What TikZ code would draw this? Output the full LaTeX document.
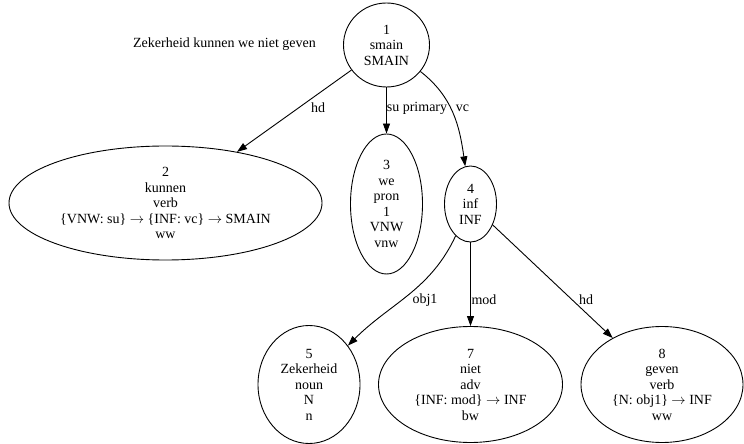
\documentclass[tikz,border=0pt]{standalone}
\usepackage{fontspec}
\setmainfont{Liberation Serif}
\usepackage{tikz}
\usetikzlibrary{arrows.meta,shapes.geometric}
\newcommand{\gvfont}{\fontsize{14bp}{15.5bp}\selectfont}

\begin{document}
\begin{tikzpicture}[
  x=1bp, y=-1bp,
  tnode/.style={draw,ellipse,inner sep=0pt,align=center,font=\gvfont,line width=0.9bp},
  lbl/.style={inner sep=0pt,font=\gvfont},
  arr/.style={-{Triangle[length=10bp,width=7bp]},line width=0.9bp}]
\fill[white] (0,0) rectangle (744,444);
\useasboundingbox (0,0) rectangle (744,444);
\node[lbl] (sent) at (224.5,44) {Zekerheid kunnen we niet geven};
\node[tnode,minimum width=86bp,minimum height=84bp] (n1) at (386.5,45) {1\\smain\\SMAIN};
\node[tnode,minimum width=313bp,minimum height=114bp] (n2) at (165.5,203) {2\\kunnen\\verb\\\{VNW: su\} $\rightarrow$ \{INF: vc\} $\rightarrow$ SMAIN\\ww};
\node[tnode,minimum width=72bp,minimum height=140bp] (n3) at (386.5,204) {3\\we\\pron\\1\\VNW\\vnw};
\node[tnode,minimum width=52bp,minimum height=76bp] (n4) at (470.5,204) {4\\inf\\INF};
\node[tnode,minimum width=102bp,minimum height=118bp] (n5) at (309,384.5) {5\\Zekerheid\\noun\\N\\n};
\node[tnode,minimum width=184bp,minimum height=116bp] (n7) at (470.5,384.5) {7\\niet\\adv\\\{INF: mod\} $\rightarrow$ INF\\bw};
\node[tnode,minimum width=162bp,minimum height=116bp] (n8) at (662,384.5) {8\\geven\\verb\\\{N: obj1\} $\rightarrow$ INF\\ww};
% edges
\draw[arr] (n1) -- (n2);
\draw[arr] (n1) -- (n3);
\draw[arr] (n1) to[out=-38,in=98] (n4);
\draw[arr] (n4) to[out=245,in=45] (n5);
\draw[arr] (n4) -- (n7);
\draw[arr] (n4) -- (n8);
% edge labels
\node[lbl] (l12) at (318,108) {hd};
\node[lbl] (l13) at (417,108) {su primary};
\node[lbl] (l14) at (462.5,108) {vc};
\node[lbl] (l45) at (425,300) {obj1};
\node[lbl] (l47) at (484,300) {mod};
\node[lbl] (l48) at (586,300) {hd};
\end{tikzpicture}
\end{document}
